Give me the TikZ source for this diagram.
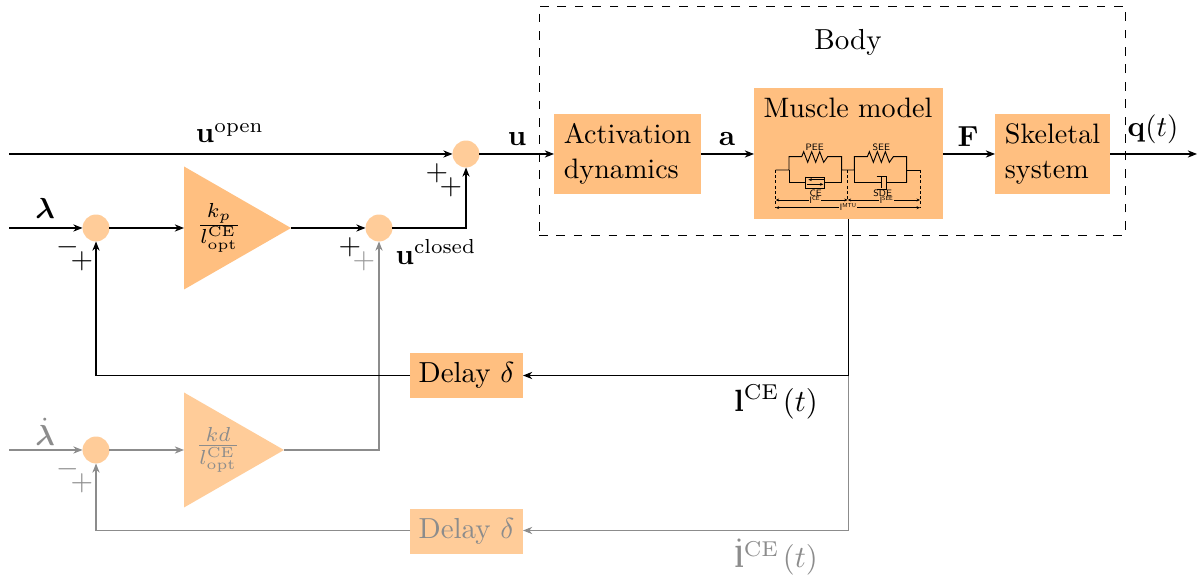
\documentclass[tikz,border=0pt]{standalone}
\usepackage{amsmath,amssymb}
\usetikzlibrary{arrows.meta,shapes.geometric}
\definecolor{orA}{RGB}{255,191,128}
\definecolor{orB}{RGB}{255,204,153}
\colorlet{dim}{black!45}
\tikzset{
  x=0.345pt,y=-0.345pt,
  wire/.style={line width=0.38pt,-{Stealth[length=3.2pt,width=2.5pt]}},
  plain/.style={line width=0.38pt},
  dimwire/.style={wire,draw=dim},
  dimplain/.style={plain,draw=dim},
  blockB/.style={rectangle,fill=orB,inner sep=0pt,outer sep=0pt,text=dim},
  sumA/.style={circle,fill=orB,inner sep=0pt,outer sep=0pt,minimum size=9.3pt},
  lab/.style={inner sep=0pt,outer sep=0pt},
  boxfont/.style={font=\fontsize{9.7}{12.2}\selectfont},
  biglab/.style={inner sep=0pt,outer sep=0pt,scale=1.06},
  tiny/.style={inner sep=0pt,outer sep=0pt,font=\fontsize{3.2}{3.6}\selectfont\sffamily},
  sch/.style={line width=0.32pt},
  schtip/.style={line width=0.28pt,{Stealth[length=1.2pt,width=1pt]}-{Stealth[length=1.2pt,width=1pt]}},
}
\newcommand{\schlen}[1]{l\raisebox{1pt}{\fontsize{2}{2}\selectfont #1}}
\begin{document}
\begin{tikzpicture}
\useasboundingbox (0,0) rectangle (1200,575);

% body frame
\node[draw,dashed,line width=0.3pt,rectangle,inner sep=0pt,minimum width=586*0.345pt,minimum height=229*0.345pt] (body) at (832,120.5) {};
\node[lab] (bodylab) at (848,42) {Body};

% blocks
\node[rectangle,fill=orA,inner sep=0pt,outer sep=0pt,minimum width=147*0.345pt,minimum height=80*0.345pt,align=left,boxfont] (act) at (627.5,154) {Activation\\dynamics};
\node[rectangle,fill=orA,inner sep=0pt,outer sep=0pt,minimum width=189*0.345pt,minimum height=131*0.345pt] (mus) at (848.5,153.5) {};
\node[lab,boxfont] (mustitle) at (848,108) {Muscle model};
\node[rectangle,fill=orA,inner sep=0pt,outer sep=0pt,minimum width=115*0.345pt,minimum height=80*0.345pt,align=left,boxfont] (skel) at (1052.5,154) {Skeletal\\system};
\node[rectangle,fill=orA,inner sep=0pt,outer sep=0pt,minimum width=113*0.345pt,minimum height=45*0.345pt] (delay) at (466.5,375.5) {Delay $\delta$};
\node[blockB,minimum width=113*0.345pt,minimum height=45*0.345pt] (delayd) at (466.5,531.5) {Delay $\delta$};

% sums
\node[sumA] (s0) at (466,154) {};
\node[sumA] (s1) at (96,228) {};
\node[sumA] (s2) at (379,228) {};
\node[sumA] (s3) at (96,450) {};

% gains
\node[isosceles triangle,isosceles triangle stretches,fill=orA,inner sep=0pt,outer sep=0pt,
  minimum width=123*0.345pt,minimum height=107*0.345pt,anchor=lower side,shape border rotate=0] (g1) at (184,228) {};
\node[lab] (g1t) at (219,228) {$\frac{k_p}{l_{\mathrm{opt}}^{\mathrm{CE}}}$};
\node[isosceles triangle,isosceles triangle stretches,fill=orB,inner sep=0pt,outer sep=0pt,
  minimum width=115*0.345pt,minimum height=100*0.345pt,anchor=lower side,shape border rotate=0] (g2) at (184,450) {};
\node[lab,text=dim] (g2t) at (218,450) {$\frac{kd}{l_{\mathrm{opt}}^{\mathrm{CE}}}$};

% free ends
\coordinate (inopen) at (9,154);
\coordinate (inlam) at (9,228);
\coordinate (indlam) at (9,450);
\coordinate (out) at (1197,154);
\coordinate (tap) at (848.5,375.5);
\coordinate (tapd) at (848.5,530.5);

% connectors: dim first
\draw[dimwire] (indlam) -- (s3);
\draw[dimwire] (s3) -- (184,450);
\draw[dimwire] (g2.east) -| (s2.south);
\draw[dimplain] (tap) -- (tapd);
\draw[dimwire] (tapd) -- (delayd.east |- tapd);
\draw[dimwire] (delayd.west |- tapd) -| (s3.south);

\draw[wire] (inopen) -- (s0);
\draw[wire] (s0) -- (act.west);
\draw[wire] (act.east) -- (mus.west |- act.east);
\draw[wire] (mus.east |- skel.west) -- (skel.west);
\draw[wire] (skel.east) -- (out);
\draw[wire] (inlam) -- (s1);
\draw[wire] (s1) -- (184,228);
\draw[wire] (g1.east) -- (s2);
\draw[wire] (s2) -| (s0.south);
\draw[plain] (mus.south) -- (tap);
\draw[wire] (tap) -- (delay.east);
\draw[wire] (delay.west) -| (s1.south);

% labels
\node[lab] (luo) at (230,133) {$\mathbf{u}^{\mathrm{open}}$};
\node[lab] (lu) at (517,139) {$\mathbf{u}$};
\node[lab] (la) at (727,139) {$\mathbf{a}$};
\node[lab] (lF) at (968,137) {$\mathbf{F}$};
\node[lab] (lq) at (1153,129) {$\mathbf{q}(t)$};
\node[lab] (llam) at (45,208) {$\boldsymbol{\lambda}$};
\node[lab,text=dim] (ldlam) at (45,432) {$\dot{\boldsymbol{\lambda}}$};
\node[lab] (luc) at (436,252) {$\mathbf{u}^{\mathrm{closed}}$};
\node[biglab] (ll) at (776,402) {$\mathbf{l}^{\mathrm{CE}}\mkern2mu(t)$};
\node[biglab,text=dim] (ldl) at (776,557) {$\dot{\mathbf{l}}^{\mathrm{CE}}\mkern2mu(t)$};

% signs
\node[lab] (p1) at (437,173) {$+$};
\node[lab] (p2) at (451,187) {$+$};
\node[lab] (m1) at (68,247) {$-$};
\node[lab] (p3) at (82,261) {$+$};
\node[lab] (p4) at (350,247) {$+$};
\node[lab,text=black!40] (p5) at (364,261) {$+$};
\node[lab,text=dim] (m2) at (68,469) {$-$};
\node[lab,text=dim] (p6) at (82,483) {$+$};

% muscle schematic
\begin{scope}[shift={(750,85)},x=0.115pt,y=-0.115pt]
  \draw[sch] (77,255) -- (117,255) -- (117,215) -- (155,215) -- (161,200) -- (173,232) -- (185,200) -- (197,232) -- (209,200) -- (221,232) -- (233,215) -- (275,215) -- (275,255) -- (313,255) -- (313,215) -- (352,215) -- (358,200) -- (370,232) -- (382,200) -- (394,232) -- (406,200) -- (418,232) -- (430,215) -- (470,215) -- (470,293);
  \draw[sch] (470,255) -- (510,255);
  \draw[sch] (117,255) -- (117,293) -- (167,293);
  \draw[sch] (223,293) -- (275,293) -- (275,255);
  \draw[line width=0.5pt] (167,275) -- (167,311);
  \draw[sch] (167,277) -- (223,277) -- (223,310) -- (167,310);
  \draw[sch,-{Stealth[length=1.2pt,width=1pt]}] (223,284) -- (175,284);
  \draw[sch,-{Stealth[length=1.2pt,width=1pt]}] (172,298) -- (220,298);
  \draw[sch] (313,255) -- (313,293) -- (395,293);
  \draw[line width=0.5pt] (395,276) -- (395,310);
  \draw[sch] (380,273) -- (410,273) -- (410,312) -- (380,312);
  \draw[sch] (410,293) -- (470,293);
  \draw[sch,dash pattern=on 1pt off 0.8pt] (77,255) -- (77,370);
  \draw[sch,dash pattern=on 1pt off 0.8pt] (293,255) -- (293,347);
  \draw[sch,dash pattern=on 1pt off 0.8pt] (510,255) -- (510,370);
  \draw[schtip] (77,345) -- (293,345);
  \draw[schtip] (293,345) -- (510,345);
  \draw[schtip] (77,368) -- (510,368);
  \node[tiny] (tp) at (194,186) {PEE};
  \node[tiny] (ts) at (394,186) {SEE};
  \node[tiny] (tc) at (197,325) {CE};
  \node[tiny] (td) at (398,325) {SDE};
  \node[tiny,fill=orA,inner xsep=0.3pt] (tl1) at (194,346) {\schlen{CE}};
  \node[tiny,fill=orA,inner xsep=0.3pt] (tl2) at (409,346) {\schlen{SEE}};
  \node[tiny,fill=orA,inner xsep=0.3pt] (tl3) at (294,366) {\schlen{MTU}};
\end{scope}
\end{tikzpicture}
\end{document}
